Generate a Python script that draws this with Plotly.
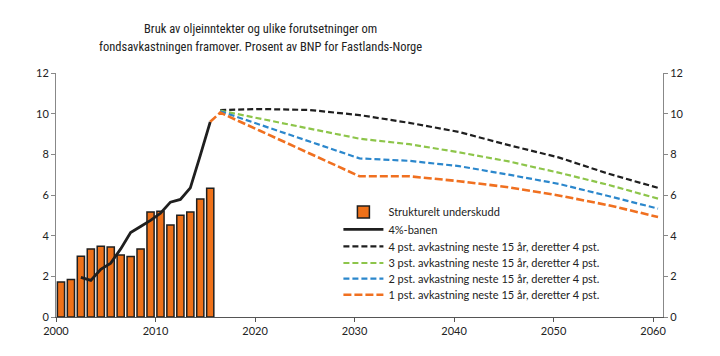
import plotly.graph_objects as go

# ---- data ----
bar_years = list(range(2000, 2016))
strukturelt_underskudd = [1.72, 1.84, 2.99, 3.35, 3.48, 3.44, 3.05, 2.97, 3.35, 5.16, 5.2, 4.52, 5.0, 5.16, 5.8, 6.33]

line4_years = list(range(2002, 2016))
banen_4 = [1.95, 1.8, 2.35, 2.65, 3.35, 4.15, 4.45, 4.75, 5.1, 5.65, 5.78, 6.35, 7.95, 9.6]

scen_years = [2016, 2020, 2025, 2030, 2035, 2040, 2045, 2050, 2055, 2060]
pst4 = [10.18, 10.23, 10.18, 9.93, 9.55, 9.1, 8.45, 7.85, 7.05, 6.35]
pst3 = [10.15, 9.76, 9.27, 8.77, 8.5, 8.1, 7.65, 7.1, 6.5, 5.82]
pst2 = [10.12, 9.46, 8.63, 7.8, 7.68, 7.42, 7.0, 6.55, 5.95, 5.33]
pst1_years = [2015] + scen_years
pst1 = [9.6, 10.05, 9.16, 8.04, 6.92, 6.92, 6.68, 6.38, 5.98, 5.5, 4.92]

x_ticks = [2000, 2010, 2020, 2030, 2040, 2050, 2060]
y_ticks = [0, 2, 4, 6, 8, 10, 12]

names = ["Strukturelt underskudd", "4%-banen",
         "4 pst. avkastning neste 15 år, deretter 4 pst.",
         "3 pst. avkastning neste 15 år, deretter 4 pst.",
         "2 pst. avkastning neste 15 år, deretter 4 pst.",
         "1 pst. avkastning neste 15 år, deretter 4 pst."]

title_lines = ["Bruk av oljeinntekter og ulike forutsetninger om",
               "fondsavkastningen framover. Prosent av BNP for Fastlands-Norge"]

# ---- figure ----
def mid(years):
    return [y + 0.5 for y in years]

legend_ids = ["legend", "legend2", "legend3", "legend4", "legend5", "legend6"]

fig = go.Figure()
fig.add_trace(go.Bar(x=mid(bar_years), y=strukturelt_underskudd, name=names[0], legend=legend_ids[0],
                     width=0.72, marker=dict(color="#EF7119", line=dict(color="#1f1f1f", width=1.5))))
fig.add_trace(go.Scatter(x=mid(line4_years), y=banen_4, name=names[1], mode="lines", legend=legend_ids[1],
                         line=dict(color="#1f1f1f", width=2.8)))
fig.add_trace(go.Scatter(x=mid(scen_years), y=pst4, name=names[2], mode="lines", legend=legend_ids[2],
                         line=dict(color="#1f1f1f", width=2.2, dash="6px,3px")))
fig.add_trace(go.Scatter(x=mid(scen_years), y=pst3, name=names[3], mode="lines", legend=legend_ids[3],
                         line=dict(color="#8DC54A", width=2.2, dash="6px,3px")))
fig.add_trace(go.Scatter(x=mid(scen_years), y=pst2, name=names[4], mode="lines", legend=legend_ids[4],
                         line=dict(color="#2B87CC", width=2.2, dash="6px,3px")))
fig.add_trace(go.Scatter(x=mid(pst1_years), y=pst1, name=names[5], mode="lines", legend=legend_ids[5],
                         line=dict(color="#F07020", width=2.6, dash="8px,3px")))
# invisible helper on secondary axis so right axis is drawn
fig.add_trace(go.Scatter(x=[2000.5], y=[0], yaxis="y2", mode="markers",
                         marker=dict(opacity=0), showlegend=False, hoverinfo="skip"))

W, H = 712, 348
ML, MT, MR, MB = 47.5, 64.7, 57.3, 39.3
plot_h = H - MT - MB
plot_w = W - ML - MR

def py(layout_y):
    return (H - MB - layout_y) / plot_h

def px(layout_x):
    return (layout_x - ML) / plot_w

base_font = "Lato, Open Sans, sans-serif"
legend_y_px = [203.7, 221.0, 238.0, 254.7, 270.3, 286.5]
legend_layout = {}
for lid, ly in zip(legend_ids, legend_y_px):
    legend_layout[lid] = dict(x=px(330), y=py(ly), xanchor="left", yanchor="middle",
                              bgcolor="rgba(0,0,0,0)", font=dict(family=base_font, size=11, color="#222"),
                              itemwidth=40)

title_y_px = [20.5, 38.5]
for t, ty in zip(title_lines, title_y_px):
    fig.add_annotation(text=t, xref="paper", yref="paper", x=px(252), y=py(ty),
                       xanchor="center", yanchor="middle", showarrow=False,
                       font=dict(family="Roboto Condensed, Liberation Sans Narrow, sans-serif",
                                 size=12.5, color="#222"))

fig.update_layout(
    width=W, height=H,
    margin=dict(l=ML, r=MR, t=MT, b=MB, autoexpand=False),
    paper_bgcolor="white", plot_bgcolor="white",
    font=dict(family=base_font, size=11, color="#222"),
    showlegend=True,
    xaxis=dict(range=[2000, 2061], tickvals=x_ticks, ticks="outside", ticklen=4,
               tickcolor="#555", showline=True, linecolor="#555", linewidth=1,
               showgrid=False, zeroline=False),
    yaxis=dict(range=[0, 12], tickvals=y_ticks, ticks="outside", ticklen=4,
               tickcolor="#888", showline=True, linecolor="#888", linewidth=1,
               showgrid=False, zeroline=False),
    yaxis2=dict(range=[0, 12], tickvals=y_ticks, ticks="outside", ticklen=4,
                tickcolor="#888", showline=True, linecolor="#888", linewidth=1,
                showgrid=False, zeroline=False, overlaying="y", side="right"),
    **legend_layout,
)

fig.write_html("out.html")
